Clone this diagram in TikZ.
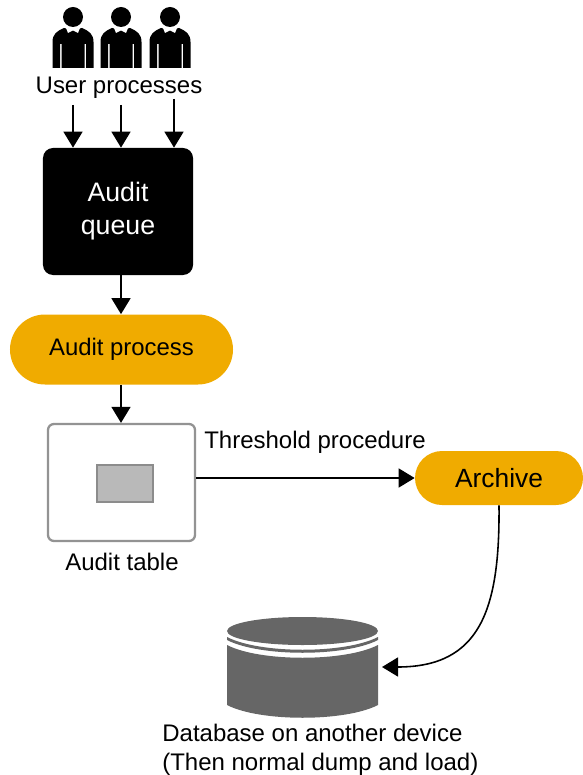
\documentclass[tikz,border=0pt]{standalone}
\usepackage{fontspec}
\setmainfont{Liberation Sans}
\usepackage{xcolor}
\usepackage{tikz}
\usetikzlibrary{shapes.misc,arrows.meta,positioning}
\definecolor{archivegold}{HTML}{F0AB00}
\definecolor{diskgray}{HTML}{666666}
\tikzset{
    conn/.style={-{Triangle[length=3.2mm,width=3.8mm]},line width=0.9pt},
    conntext/.style={font=\fontsize{13.65}{16.4}\selectfont,inner sep=0pt},
    pill/.style={rounded rectangle,fill=archivegold,inner sep=0pt,minimum height=1.4cm},
    person/.pic={
        \fill[black] (0,17) circle (10);
        \fill[black] (-20.5,68) -- (-20.5,42) .. controls (-20.5,34) and (-16,31) .. (-9,28)
            -- (0,30) -- (9,28) .. controls (16,31) and (20.5,34) .. (20.5,42) -- (20.5,68)
            -- (13,68) -- (13,44) -- (11.5,44) -- (11.5,68) -- (-11.5,68) -- (-11.5,44) -- (-13,44) -- (-13,68) --cycle;
        \fill[white] (-7,28) -- (0,29) -- (7,28) -- (5,33) -- (0,30.5) -- (-5,33) --cycle;
    }
}
\begin{document}
\begin{tikzpicture}[x=0.2mm,y=-0.2mm]
    \useasboundingbox (0,0) rectangle (582,775);
    % users
    \pic at (73,0) {person};
    \pic at (121,0) {person};
    \pic at (170,0) {person};
    \node[conntext] (users) at (119,88) {User processes};
    \coordinate (userA) at (73,105);
    \coordinate (userB) at (121,105);
    \coordinate (userC) at (174,99);
    % queue and process
    \node[fill=black,text=white,rounded corners=0.2cm,minimum width=3cm,minimum height=2.54cm,
        align=center,inner sep=0pt,font=\fontsize{15.2}{18.7}\selectfont] (queue) at (118,211.5) {Audit\\queue};
    \node[pill,minimum width=4.46cm,font=\fontsize{13.6}{16}\selectfont] (process) at (121.5,349.5) {Audit process};
    % table
    \node[draw=gray!85,fill=white,line width=1.3pt,rounded corners=0.12cm,minimum width=2.94cm,minimum height=2.34cm] (table) at (121.5,482.5) {};
    \node[draw=gray!90,fill=gray!55,line width=1.3pt,minimum width=1.12cm,minimum height=0.74cm] (cell) at (125,483.5) {};
    \node[conntext] (tablelabel) at (122,562) {Audit table};
    % archive
    \node[pill,minimum width=3.36cm,minimum height=1.08cm,font=\fontsize{15}{18}\selectfont] (archive) at (499,478) {Archive};
    \node[conntext] (threshold) at (315,442.5) {Threshold procedure};
    % disk
    \fill[diskgray] (227,645) .. controls (260,662) and (345,662) .. (378,645) -- (378,705)
        .. controls (345,722) and (260,722) .. (227,705) --cycle;
    \fill[diskgray] (227,637) .. controls (260,654) and (345,654) .. (378,637) -- (378,640)
        .. controls (345,657) and (260,657) .. (227,640) --cycle;
    \fill[diskgray] (302.5,631) ellipse (75.5 and 14);
    \coordinate (diskin) at (382,667);
    \node[conntext,align=left,anchor=west] (disklabel) at (162,749.5) {Database on another device\\(Then normal dump and load)};
    % connectors
    \draw[conn] (userA) -- (userA |- queue.north);
    \draw[conn] (userB) -- (userB |- queue.north);
    \draw[conn] (userC) -- (userC |- queue.north);
    \draw[conn] (userB |- queue.south) -- (userB |- process.north);
    \draw[conn] (userB |- process.south) -- (userB |- table.north);
    \draw[conn] (table.east |- archive.west) -- (archive.west);
    \draw[conn] (archive.south) .. controls (500,610) and (480,667) .. (diskin);
\end{tikzpicture}
\end{document}
